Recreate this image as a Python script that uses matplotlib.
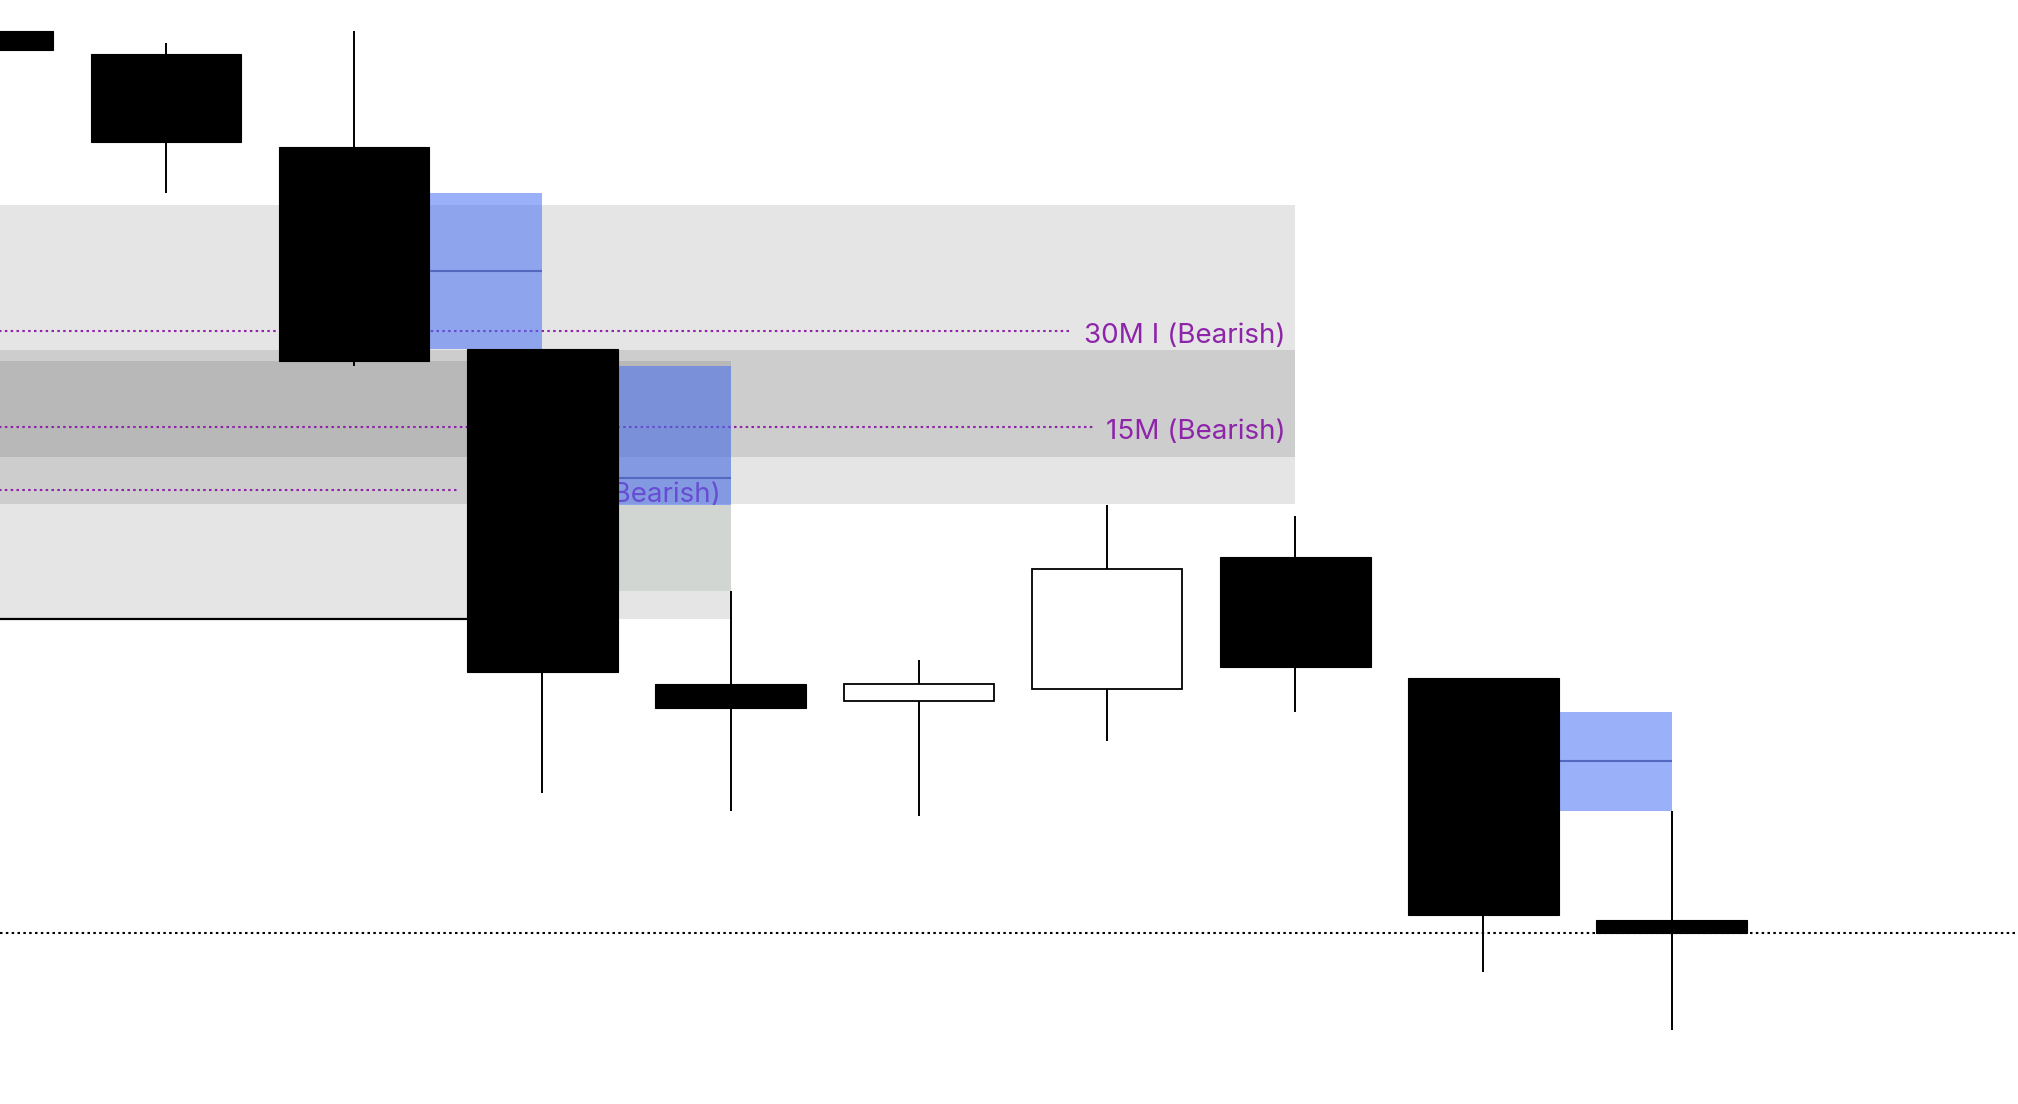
import matplotlib
matplotlib.use('Agg')
from matplotlib import pyplot as plt
from matplotlib.patches import Rectangle

# candle data (oldest -> newest)
opens = [2399.69, 2399.46, 2398.53, 2396.51, 2393.16, 2392.99, 2393.11, 2394.43, 2393.22, 2390.80]
highs = [2399.80, 2399.57, 2399.69, 2396.51, 2394.09, 2393.40, 2394.95, 2394.84, 2393.22, 2391.89]
lows = [2399.40, 2398.07, 2396.34, 2392.07, 2391.89, 2391.84, 2392.59, 2392.88, 2390.28, 2389.70]
closes = [2399.50, 2398.58, 2396.39, 2393.28, 2392.92, 2393.16, 2394.31, 2393.33, 2390.85, 2390.67]

# order block zones
zone_labels = ['30M I (Bearish)', '15M (Bearish)', '30M OB I (Bearish)']
zone_top = [2397.95, 2396.50, 2396.39]
zone_bottom = [2394.96, 2395.43, 2393.81]
zone_level = [2396.69, 2395.73, 2395.10]
zone_start = [-1, -1, -1]
zone_end = [7, 7, 4]

# fair value gaps, index of the middle candle
fvg_mid = [2, 3, 8]

# broken level
break_level = 2393.81
break_start = -1
break_end = 3

purple = '#8e24aa'
fvg_blue = '#476ff4'
width = 0.8

fig = plt.figure(figsize=(20.18, 11.04), dpi=100)
ax = fig.add_axes([0, 0, 1, 1])
ax.set_xlim(0.118, 10.84)
ax.set_ylim(2388.96, 2400.00)
ax.axis('off')

# zones
for i in range(len(zone_labels)):
    ax.add_patch(Rectangle((zone_start[i], zone_bottom[i]), zone_end[i] - zone_start[i],
                           zone_top[i] - zone_bottom[i], facecolor='black', alpha=0.1,
                           linewidth=0, zorder=1))

texts = []
for i in range(len(zone_labels)):
    t = ax.annotate(zone_labels[i], xy=(zone_end[i], zone_level[i]), xytext=(-10, -5),
                    textcoords='offset pixels', ha='right', va='center', color=purple,
                    fontsize=20, family=['Inter', 'DejaVu Sans'], zorder=2)
    texts.append(t)

fig.canvas.draw()
r = fig.canvas.get_renderer()
inv = ax.transData.inverted()
for i, t in enumerate(texts):
    bb = t.get_window_extent(r)
    x_end = inv.transform((bb.x0 - 13, 0))[0]
    ax.plot([zone_start[i], x_end], [zone_level[i], zone_level[i]], color=purple,
            linewidth=1.5, linestyle=(0, (1.2, 1.6)), zorder=2)

ax.plot([break_start, break_end], [break_level, break_level], color='black', linewidth=1.6,
        solid_capstyle='butt', zorder=2)

# fair value gaps
for m in fvg_mid:
    top = lows[m - 1]
    bottom = highs[m + 1]
    later = highs[m + 2:]
    filled = max(later) if later else None
    if filled is not None and filled > bottom:
        ax.add_patch(Rectangle((m, bottom), 1, filled - bottom, facecolor='#d1d6d3',
                               linewidth=0, zorder=3))
        ax.add_patch(Rectangle((m, filled), 1, top - filled, facecolor=fvg_blue, alpha=0.55,
                               linewidth=0, zorder=3))
    else:
        ax.add_patch(Rectangle((m, bottom), 1, top - bottom, facecolor=fvg_blue, alpha=0.55,
                               linewidth=0, zorder=3))
    mid = (top + bottom) / 2
    ax.plot([m, m + 1], [mid, mid], color='#5468bf', linewidth=1.5, solid_capstyle='butt', zorder=3)

# candles
for i in range(len(opens)):
    o, h, l, c = opens[i], highs[i], lows[i], closes[i]
    ax.plot([i, i], [l, h], color='black', linewidth=1.4, solid_capstyle='butt', zorder=4)
    if c < o:
        ax.add_patch(Rectangle((i - width / 2, c), width, o - c, facecolor='black',
                               edgecolor='black', linewidth=0.8, zorder=5))
    else:
        ax.add_patch(Rectangle((i - width / 2, o), width, c - o, facecolor='white',
                               edgecolor='black', linewidth=1.3, zorder=5))

# last price
ax.axhline(closes[-1], color='black', linewidth=1.5, linestyle=(0, (1.2, 1.6)), zorder=6)

plt.savefig('out.png', dpi=100)
